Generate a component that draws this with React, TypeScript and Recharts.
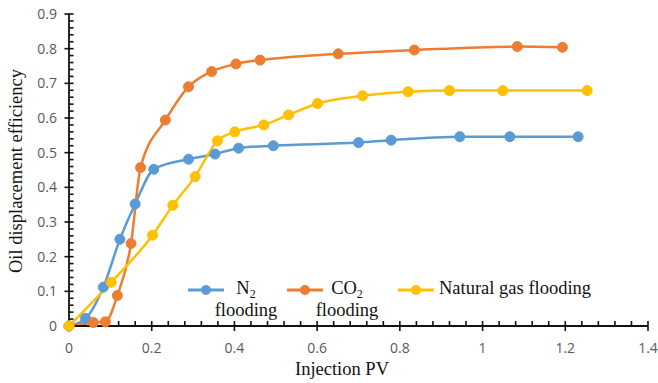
import React from "react";
import { LineChart, Line, XAxis, YAxis, ReferenceLine } from "recharts";

const n2X = [0, 0.04, 0.083, 0.123, 0.16, 0.205, 0.289, 0.353, 0.41, 0.494, 0.7, 0.779, 0.945, 1.066, 1.231];
const n2Y = [0, 0.022, 0.112, 0.25, 0.352, 0.452, 0.481, 0.496, 0.513, 0.52, 0.529, 0.536, 0.546, 0.546, 0.546];

const co2X = [0, 0.059, 0.088, 0.117, 0.15, 0.173, 0.233, 0.289, 0.345, 0.404, 0.462, 0.651, 0.835, 1.084, 1.193];
const co2Y = [0, 0.01, 0.012, 0.088, 0.238, 0.457, 0.594, 0.69, 0.734, 0.756, 0.767, 0.785, 0.796, 0.806, 0.804];

const ngX = [0, 0.102, 0.202, 0.251, 0.305, 0.359, 0.401, 0.471, 0.531, 0.601, 0.71, 0.82, 0.92, 1.049, 1.253];
const ngY = [0, 0.126, 0.262, 0.348, 0.431, 0.534, 0.56, 0.58, 0.609, 0.642, 0.664, 0.676, 0.679, 0.679, 0.679];

const xTicks = [0, 0.2, 0.4, 0.6, 0.8, 1, 1.2, 1.4];
const yTicks = [0, 0.1, 0.2, 0.3, 0.4, 0.5, 0.6, 0.7, 0.8, 0.9];
const xMinorStep = 0.04;
const yMinorStep = 0.02;

const xAllTicks = Array.from({ length: 36 }, (_, i) => Math.round(i * xMinorStep * 1000) / 1000);
const yAllTicks = Array.from({ length: 46 }, (_, i) => Math.round(i * yMinorStep * 1000) / 1000);

const isMajor = (v: number, majors: number[]) => majors.some((m) => Math.abs(m - v) < 1e-6);

const toPoints = (xs: number[], ys: number[]) => xs.map((x, i) => ({ x, y: ys[i] }));

const series = [
  { key: "n2", name: "N2", color: "#5B9BD5", data: toPoints(n2X, n2Y) },
  { key: "co2", name: "CO2", color: "#ED7D31", data: toPoints(co2X, co2Y) },
  { key: "ng", name: "Natural gas flooding", color: "#FFC000", data: toPoints(ngX, ngY) },
];

const serif = "'Liberation Serif', 'Times New Roman', serif";
const sans = "'Open Sans', 'Liberation Sans', sans-serif";
const axisColor = "#111111";
const labelColor = "#595959";

// tick mark lengths in data units (about 4-5 px)
const xTickLen = 0.0145;
const yTickLen = 0.011;

function XTick(props: any) {
  const { x, y, payload } = props;
  const v = payload.value;
  if (!isMajor(v, xTicks)) return <g />;
  return (
    <text x={x} y={y + 17} dy="0.71em" textAnchor="middle" fill={labelColor} fontSize={14} fontFamily={sans}>
      {String(v)}
    </text>
  );
}

function YTick(props: any) {
  const { x, y, payload } = props;
  const v = payload.value;
  if (!isMajor(v, yTicks)) return <g />;
  return (
    <text x={x - 12} y={y} dy="0.36em" textAnchor="end" fill={labelColor} fontSize={14} fontFamily={sans}>
      {String(v)}
    </text>
  );
}

function LegendMark({ color }: { color: string }) {
  return (
    <svg width={36} height={12} style={{ display: "block" }}>
      <line x1={0} y1={6} x2={36} y2={6} stroke={color} strokeWidth={3} />
      <circle cx={18} cy={6} r={5} fill={color} />
    </svg>
  );
}

const textStyle: React.CSSProperties = {
  fontFamily: serif,
  fontSize: 18.5,
  lineHeight: "22px",
  color: "#111",
};

export default function App() {
  return (
    <div style={{ position: "absolute", left: 0, top: 0, width: 658, height: 383, background: "#fff" }}>
      <LineChart width={658} height={383} margin={{ top: 14, right: 10, bottom: 0, left: 29 }}>
        <XAxis
          xAxisId="main"
          type="number"
          dataKey="x"
          domain={[0, 1.4]}
          ticks={xAllTicks}
          interval={0}
          height={57}
          tickSize={0}
          tickMargin={0}
          axisLine={{ stroke: axisColor, strokeWidth: 1.8 }}
          tickLine={false}
          tick={<XTick />}
        />
        <YAxis
          yAxisId="main"
          type="number"
          domain={[0, 0.9]}
          ticks={yAllTicks}
          interval={0}
          width={40}
          tickSize={0}
          tickMargin={0}
          axisLine={{ stroke: axisColor, strokeWidth: 1.8 }}
          tickLine={false}
          tick={<YTick />}
        />
        {xAllTicks.map((v) => (
          <ReferenceLine
            key={"xt" + v}
            xAxisId="main"
            yAxisId="main"
            ifOverflow="visible"
            stroke={axisColor}
            strokeWidth={1.6}
            segment={[
              { x: v, y: isMajor(v, xTicks) ? -xTickLen : 0 },
              { x: v, y: xTickLen },
            ]}
          />
        ))}
        {yAllTicks.map((v) => (
          <ReferenceLine
            key={"yt" + v}
            xAxisId="main"
            yAxisId="main"
            ifOverflow="visible"
            stroke={axisColor}
            strokeWidth={1.6}
            segment={[
              { x: isMajor(v, yTicks) ? -yTickLen : 0, y: v },
              { x: yTickLen, y: v },
            ]}
          />
        ))}
        {series.map((s) => (
          <Line
            key={s.key}
            xAxisId="main"
            yAxisId="main"
            data={s.data}
            dataKey="y"
            name={s.name}
            type="monotone"
            stroke={s.color}
            strokeWidth={2.5}
            dot={{ r: 5, fill: s.color, stroke: s.color, strokeWidth: 1 }}
            isAnimationActive={false}
          />
        ))}
      </LineChart>

      <div style={{ ...textStyle, position: "absolute", left: 342 - 100, top: 358, width: 200, textAlign: "center" }}>
        Injection PV
      </div>
      <div
        style={{
          ...textStyle,
          position: "absolute",
          left: 16 - 130,
          top: 171 - 11,
          width: 260,
          textAlign: "center",
          transform: "rotate(-90deg)",
        }}
      >
        Oil displacement efficiency
      </div>

      {/* Legend */}
      <div style={{ position: "absolute", left: 188, top: 284 }}>
        <LegendMark color={series[0].color} />
      </div>
      <div style={{ ...textStyle, position: "absolute", left: 206, top: 277, width: 80, textAlign: "center" }}>
        <div>
          N<sub style={{ fontSize: 12, verticalAlign: "-4px", lineHeight: 0 }}>2</sub>
        </div>
        <div>flooding</div>
      </div>
      <div style={{ position: "absolute", left: 287, top: 284 }}>
        <LegendMark color={series[1].color} />
      </div>
      <div style={{ ...textStyle, position: "absolute", left: 307, top: 277, width: 80, textAlign: "center" }}>
        <div>
          CO<sub style={{ fontSize: 12, verticalAlign: "-4px", lineHeight: 0 }}>2</sub>
        </div>
        <div>flooding</div>
      </div>
      <div style={{ position: "absolute", left: 398, top: 284 }}>
        <LegendMark color={series[2].color} />
      </div>
      <div style={{ ...textStyle, position: "absolute", left: 439, top: 277, whiteSpace: "nowrap" }}>
        Natural gas flooding
      </div>
    </div>
  );
}
